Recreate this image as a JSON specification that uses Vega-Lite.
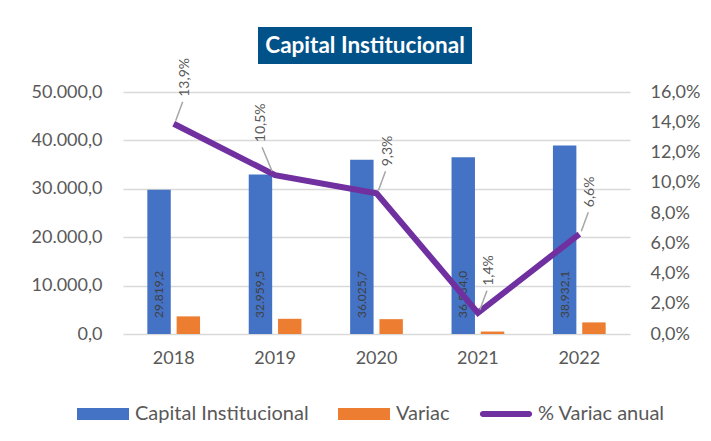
{
  "$schema": "https://vega.github.io/schema/vega-lite/v6.json",
  "background": "white",
  "padding": {"left": 31, "top": 27, "right": 5, "bottom": 5},
  "config": {
    "font": "Lato",
    "locale": {"number": {"decimal": ",", "thousands": ".", "grouping": [3], "currency": ["", " €"]}},
    "view": {"stroke": null},
    "axis": {"labelOverlap": false}
  },
  "bounds": "full",
  "spacing": -6,
  "vconcat": [
    {
      "bounds": "full",
      "spacing": 0,
      "hconcat": [
        {
          "width": 135,
          "height": 37,
          "data": {"values": []},
          "mark": {"type": "point", "opacity": 0}
        },
        {
          "width": 214,
          "height": 37,
          "view": {"fill": "#02528A", "stroke": null},
          "data": {"values": [{"t": "Capital Institucional"}]},
          "mark": {"type": "text", "font": "Lato", "fontWeight": "bold", "fontSize": 22.5, "color": "white", "baseline": "middle", "align": "center"},
          "encoding": {"text": {"field": "t", "type": "nominal"}}
        }
      ]
    },
    {
      "width": 507,
      "height": 242,
      "data": {"values": [
        {"year": "2018", "Capital Institucional": 29819.2, "Variac": 3640, "pct": 0.139},
        {"year": "2019", "Capital Institucional": 32959.5, "Variac": 3140.3, "pct": 0.105},
        {"year": "2020", "Capital Institucional": 36025.7, "Variac": 3066.2, "pct": 0.093},
        {"year": "2021", "Capital Institucional": 36534.0, "Variac": 508.3, "pct": 0.014},
        {"year": "2022", "Capital Institucional": 38932.1, "Variac": 2398.1, "pct": 0.066}
      ]},
      "layer": [
        {
          "layer": [
            {
              "transform": [{"fold": ["Capital Institucional", "Variac"], "as": ["serie", "valor"]}],
              "mark": {"type": "bar"},
              "encoding": {
                "x": {"field": "year", "type": "nominal", "scale": {"paddingInner": 0.48, "paddingOuter": 0.24},
                  "axis": {"title": null, "labelAngle": 0, "domain": false, "ticks": false, "tickSize": 0, "labelPadding": 15, "labelFontSize": 18, "labelColor": "#595959"}},
                "xOffset": {"field": "serie", "type": "nominal", "scale": {"domain": ["Capital Institucional", "Variac"], "paddingInner": 0.2}},
                "y": {"field": "valor", "type": "quantitative", "scale": {"domain": [0, 50000]},
                  "axis": {"title": null, "values": [0, 10000, 20000, 30000, 40000, 50000], "tickCount": 6, "format": ",.1f", "grid": true, "gridColor": "#D9D9D9", "gridWidth": 1.5, "domain": false, "ticks": false, "tickSize": 0, "labelPadding": 21, "labelFontSize": 18, "labelColor": "#595959"}},
                "color": {"field": "serie", "type": "nominal",
                  "scale": {"domain": ["Capital Institucional", "Variac", "% Variac anual"], "range": ["#4472C4", "#ED7D31", "#7030A0"]},
                  "legend": {
                    "title": null, "orient": "none", "legendX": -46, "legendY": 361, "direction": "horizontal",
                    "symbolType": "M-1,-0.23H1V0.23H-1Z", "symbolSize": 2704,
                    "labelFontSize": 20, "labelColor": "#595959", "labelFont": "Lato", "labelLimit": 0,
                    "columnPadding": 29, "labelOffset": 6,
                    "encode": {"symbols": {"update": {
                      "shape": {"signal": "datum.value === '% Variac anual' ? 'M-0.89,-0.115H0.89A0.115,0.115,0,0,1,0.89,0.115H-0.89A0.115,0.115,0,0,1,-0.89,-0.115Z' : 'M-1,-0.23H1V0.23H-1Z'"},
                      "fill": {"signal": "datum.value === 'Capital Institucional' ? '#4472C4' : datum.value === 'Variac' ? '#ED7D31' : '#7030A0'"},
                      "strokeWidth": {"value": 0}
                    }}}
                  }}
              }
            },
            {
              "transform": [{"fold": ["Capital Institucional"], "as": ["serie", "valor"]}],
              "mark": {"type": "text", "angle": 270, "align": "left", "baseline": "middle", "fontSize": 12, "color": "#404040", "yOffset": -16},
              "encoding": {
                "x": {"field": "year", "type": "nominal"},
                "xOffset": {"field": "serie", "type": "nominal"},
                "y": {"datum": 0, "type": "quantitative"},
                "text": {"field": "valor", "type": "quantitative", "format": ",.1f"}
              }
            }
          ]
        },
        {
          "layer": [
            {
              "mark": {"type": "line", "strokeWidth": 6},
              "encoding": {
                "x": {"field": "year", "type": "nominal"},
                "y": {"field": "pct", "type": "quantitative", "scale": {"domain": [0, 0.16]},
                  "axis": {"title": null, "orient": "right", "values": [0, 0.02, 0.04, 0.06, 0.08, 0.1, 0.12, 0.14, 0.16], "tickCount": 9, "format": ".1%", "labelOverlap": false, "grid": false, "domain": false, "ticks": false, "tickSize": 0, "labelPadding": 20, "labelFontSize": 18, "labelColor": "#595959"}},
                "color": {"datum": "% Variac anual", "type": "nominal"}
              }
            },
            {
              "transform": [{"filter": "datum.year !== '2019'"}],
              "mark": {"type": "rule", "color": "#A6A6A6", "strokeWidth": 1.5, "xOffset": 2, "yOffset": -3, "x2Offset": 9, "y2Offset": -22},
              "encoding": {
                "x": {"field": "year", "type": "nominal"},
                "y": {"field": "pct", "type": "quantitative"},
                "x2": {"field": "year"},
                "y2": {"field": "pct"}
              }
            },
            {
              "transform": [{"filter": "datum.year === '2019'"}],
              "mark": {"type": "rule", "color": "#A6A6A6", "strokeWidth": 1.5, "xOffset": -3, "yOffset": -4, "x2Offset": -13, "y2Offset": -28},
              "encoding": {
                "x": {"field": "year", "type": "nominal"},
                "y": {"field": "pct", "type": "quantitative"},
                "x2": {"field": "year"},
                "y2": {"field": "pct"}
              }
            },
            {
              "transform": [{"filter": "datum.year !== '2019'"}],
              "mark": {"type": "text", "angle": 270, "align": "left", "baseline": "middle", "fontSize": 14, "color": "#595959", "xOffset": 11, "yOffset": -27},
              "encoding": {
                "x": {"field": "year", "type": "nominal"},
                "y": {"field": "pct", "type": "quantitative"},
                "text": {"field": "pct", "type": "quantitative", "format": ".1%"}
              }
            },
            {
              "transform": [{"filter": "datum.year === '2019'"}],
              "mark": {"type": "text", "angle": 270, "align": "left", "baseline": "middle", "fontSize": 14, "color": "#595959", "xOffset": -14, "yOffset": -33},
              "encoding": {
                "x": {"field": "year", "type": "nominal"},
                "y": {"field": "pct", "type": "quantitative"},
                "text": {"field": "pct", "type": "quantitative", "format": ".1%"}
              }
            }
          ]
        }
      ],
      "resolve": {"scale": {"y": "independent"}}
    }
  ]
}
